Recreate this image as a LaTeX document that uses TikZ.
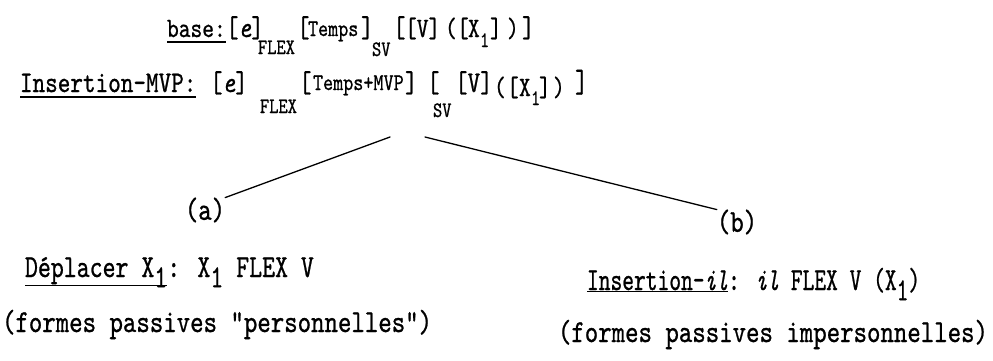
\documentclass[tikz,border=0pt]{standalone}
\usepackage{fontspec}
\newfontfamily\tw{lmmono10}[Extension=.otf,UprightFont=*-regular,ItalicFont=*-italic,FakeBold=0.9]
\newcommand\lsub[1]{\raisebox{-0.32em}{#1}}
\newcommand\cnd[2][0.8]{\scalebox{#1}[1]{#2}}
\newcommand\piece[5]{\node[piece,font=\fontsize{#4}{#4}\selectfont\tw] (#1) at (#2,#3) {\cnd{#5}};}
\tikzset{
  piece/.style={anchor=base west,inner sep=0pt,outer sep=0pt},
  txt/.style={inner sep=0pt,outer sep=0pt,font=\fontsize{32}{32}\selectfont\tw},
  branch/.style={line width=1.3pt,line cap=round},
  uline/.style={line width=1.1pt}
}
\begin{document}
\begin{tikzpicture}[x=1pt,y=-1pt]
\useasboundingbox (0,0) rectangle (993,360);
% ---------- line 1 ----------
\piece{bA}{167}{37}{28}{base:}
\piece{bB}{226}{37}{30}{[\textit{e}]}
\piece{bC}{258}{54}{22}{FLEX}
\piece{bD}{297}{37}{30}{[}
\piece{bE}{308}{36}{24}{Temps}
\piece{bF}{361}{37}{30}{]}
\piece{bG}{372}{56}{22}{SV}
\piece{bH}{393}{37}{30}{[}
\piece{bI}{405}{37}{28}{[V]}
\piece{bJ}{445}{37}{28}{(}
\piece{bK}{457}{37}{28}{[}
\piece{bL}{468}{37}{28}{X}
\piece{bM}{480}{47}{22}{1}
\piece{bN}{490}{37}{28}{]}
\piece{bO}{507}{37}{28}{)}
\piece{bP}{522}{37}{30}{]}
\draw[uline] ([yshift=-5pt]bA.base west) -- ([yshift=-5pt]bA.base east);
% ---------- line 2 ----------
\piece{iA}{20}{92}{30}{Insertion-MVP:}
\piece{iB}{210}{92}{30}{[\textit{e}]}
\piece{iC}{260}{113}{22}{FLEX}
\piece{iD}{299}{92}{30}{[}
\piece{iE}{313}{90}{24}{Temps+MVP}
\piece{iF}{405}{92}{30}{]}
\piece{iG}{427}{92}{30}{[}
\piece{iH}{433}{117}{22}{SV}
\piece{iI}{455}{92}{30}{[V]}
\piece{iJ}{494}{96}{28}{(}
\piece{iK}{507}{96}{28}{[}
\piece{iL}{519}{96}{28}{X}
\piece{iM}{531}{105}{22}{1}
\piece{iN}{539}{96}{28}{]}
\piece{iO}{553}{96}{28}{)}
\piece{iP}{575}{92}{32}{]}
\draw[uline] ([yshift=-5pt]iA.base west) -- ([yshift=-5pt]iA.base east);
% ---------- branches ----------
\coordinate (topL) at (390,137);
\coordinate (topR) at (425,137);
\node[txt] (a) at (205,210) {\cnd{(a)}};
\node[txt] (b) at (737,222) {\cnd{(b)}};
\draw[branch] (topL) -- (a.north east);
\draw[branch] (topR) -- (b.north west);
% ---------- results ----------
\node[txt,anchor=base west] (dep) at (25,277)
  {\cnd[0.77]{\underline{Déplacer X\phantom{1}}\llap{\lsub{1}}: X\lsub{1} FLEX V}};
\node[txt,anchor=base west] (persL) at (2,332)
  {\cnd{(formes passives "personnelles")}};
\node[txt,anchor=base west] (ins) at (587,290)
  {\cnd[0.7]{\underline{Insertion-\textit{il}}: \textit{il} FLEX V (X\lsub{1})}};
\node[txt,anchor=base east] (persR) at (988,342)
  {\cnd{(formes passives impersonnelles)}};
\end{tikzpicture}
\end{document}
